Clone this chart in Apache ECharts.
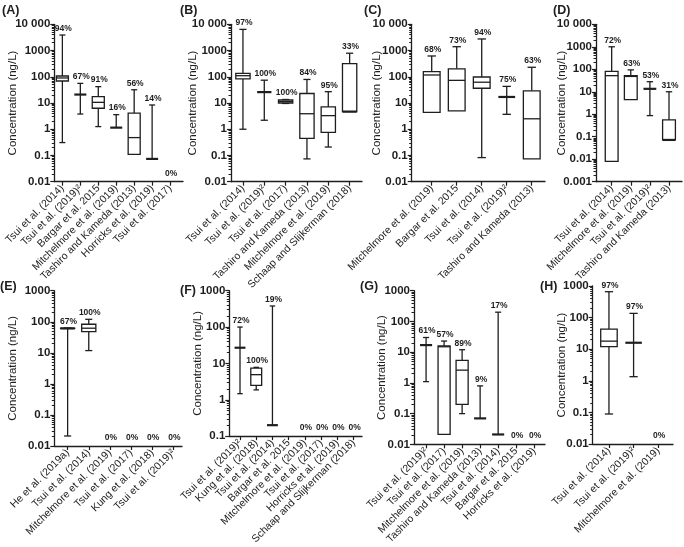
<!DOCTYPE html>
<html><head><meta charset="utf-8">
<script src="https://cdn.jsdelivr.net/npm/echarts@6/dist/echarts.min.js"></script>
<style>html,body{margin:0;padding:0;background:#fff}#c{width:684px;height:547px}</style>
</head><body><div id="c"></div>
<script>
// ---------- DATA (min, Q1, median, Q3, max in ng/L; null = not detected) ----------
const catsA = ["Tsui et al. (2014)", "Tsui et al. (2019)²", "Bargar et al. 2015", "Mitchelmore et al. (2019)", "Tashiro and Kameda (2013)", "Horricks et al. (2019)", "Tsui et al. (2017)"];
const statsA = [[0.31, 69, 90, 107, 3900], [3.8, 21, 21, 21, 56], [1.26, 6.3, 10.6, 17.4, 42], [1.15, 1.15, 1.15, 1.15, 3.6], [0.11, 0.11, 0.48, 4.1, 32], [0.074, 0.074, 0.074, 0.074, 8.4], null];
const pctA = ["94%", "67%", "91%", "16%", "56%", "14%", "0%"];

const catsB = ["Tsui et al. (2014)", "Tsui et al. (2019)²", "Tsui et al. (2017)", "Tashiro and Kameda (2013)", "Mitchelmore et al. (2019)", "Schaap and Slijkerman (2018)"];
const statsB = [[1.0, 83, 110, 135, 6400], [2.2, 26, 26, 26, 74], [9.6, 10, 11.3, 13, 13.6], [0.074, 0.45, 3.9, 23, 79], [0.21, 0.76, 3.3, 7.1, 27], [4.7, 4.7, 4.7, 316, 790]];
const pctB = ["97%", "100%", "100%", "84%", "95%", "33%"];

const catsC = ["Mitchelmore et al. (2019)", "Bargar et al. 2015", "Tsui et al. (2014)", "Tsui et al. (2019)²", "Tashiro and Kameda (2013)"];
const statsC = [[4.4, 4.4, 117, 158, 620], [5.0, 5.0, 73, 200, 1400], [0.083, 36.5, 62, 98, 2760], [3.7, 17, 17, 17, 43], [0.074, 0.074, 2.5, 29, 230]];
const pctC = ["68%", "73%", "94%", "75%", "63%"];

const catsD = ["Tsui et al. (2014)", "Mitchelmore et al. (2019)", "Tsui et al. (2019)²", "Tashiro and Kameda (2013)"];
const statsD = [[0.008, 0.008, 52, 80, 1000], [4.5, 4.5, 48, 52, 94], [0.87, 13.5, 13.5, 13.5, 28], [0.072, 0.072, 0.072, 0.56, 10]];
const pctD = ["72%", "63%", "53%", "31%"];

const catsE = ["He et al. (2019a)", "Tsui et al. (2014)", "Mitchelmore et al. (2019)", "Tsui et al. (2017)", "Kung et al. (2018)", "Tsui et al. (2019)²"];
const statsE = [[0.021, 61, 61, 62, 63], [11.8, 48, 62, 83, 120], null, null, null, null];
const pctE = ["67%", "100%", "0%", "0%", "0%", "0%"];

const catsF = ["Tsui et al. (2019)²", "Kung et al. (2018)", "Tsui et al. (2014)", "Bargar et al. 2015", "Mitchelmore et al. (2019)", "Tsui et al. (2017)", "Horricks et al. (2019)", "Schaap and Slijkerman (2018)"];
const statsF = [[1.47, 27, 27, 27, 100], [1.87, 2.5, 4.9, 7.4, 7.8], [0.2, 0.2, 0.2, 0.2, 380], null, null, null, null, null];
const pctF = ["72%", "100%", "19%", "", "0%", "0%", "0%", "0%"];

const catsG = ["Tsui et al. (2019)²", "Tsui et al. (2017)", "Mitchelmore et al. (2019)", "Tashiro and Kameda (2013)", "Tsui et al. (2014)", "Bargar et al. 2015", "Horricks et al. (2019)"];
const statsG = [[1.1, 17, 17, 17, 30], [0.021, 0.021, 15, 16, 23], [0.1, 0.2, 2.6, 5.4, 12], [0.07, 0.07, 0.07, 0.07, 0.8], [0.021, 0.021, 0.021, 0.021, 200], null, null];
const pctG = ["61%", "57%", "89%", "9%", "17%", "0%", "0%"];

const catsH = ["Tsui et al. (2014)", "Tsui et al. (2019)²", "Mitchelmore et al. (2019)"];
const statsH = [[0.089, 12, 18, 43, 660], [1.35, 16, 16, 16, 136], null];
const pctH = ["97%", "97%", "0%"];

const yRangeTop = [0.01, 10000];
const yRangeD = [0.001, 10000];
const yRangeBottom = [0.01, 1000];
const yRangeF = [0.1, 1000];
const yTitle = "Concentration (ng/L)";

// ---------- LAYOUT ----------
const panels = [
  {name: "(A)", cats: catsA, stats: statsA, pct: pctA, yr: yRangeTop, left: 54.3, right: 183, top: 24.3, bottom: 181.7, xMin: -0.45, xMax: 6.72, nameGap: 35, lx: 2, ly: 4},
  {name: "(B)", cats: catsB, stats: statsB, pct: pctB, yr: yRangeTop, left: 231, right: 362, top: 24.3, bottom: 181.7, xMin: -0.56, xMax: 5.58, nameGap: 32, lx: 180, ly: 4},
  {name: "(C)", cats: catsC, stats: statsC, pct: pctC, yr: yRangeTop, left: 411.7, right: 545, top: 24.3, bottom: 181.7, xMin: -0.8, xMax: 4.53, nameGap: 29, lx: 364, ly: 4},
  {name: "(D)", cats: catsD, stats: statsD, pct: pctD, yr: yRangeD, left: 596, right: 682, top: 24.3, bottom: 181.7, xMin: -0.82, xMax: 3.68, nameGap: 28, lx: 553, ly: 4},
  {name: "(E)", cats: catsE, stats: statsE, pct: pctE, yr: yRangeBottom, left: 54.3, right: 182, top: 290.7, bottom: 446, xMin: -0.63, xMax: 5.41, nameGap: 35, lx: 0, ly: 280},
  {name: "(F)", cats: catsF, stats: statsF, pct: pctF, yr: yRangeF, left: 229.3, right: 362, top: 290.7, bottom: 447, xMin: -0.66, xMax: 7.52, nameGap: 25, lx: 180, ly: 284},
  {name: "(G)", cats: catsG, stats: statsG, pct: pctG, yr: yRangeBottom, left: 414, right: 545, top: 290.7, bottom: 445, xMin: -0.67, xMax: 6.6, nameGap: 26, lx: 360, ly: 280},
  {name: "(H)", cats: catsH, stats: statsH, pct: pctH, yr: yRangeBottom, left: 592.7, right: 673, top: 286, bottom: 444, xMin: -0.66, xMax: 2.6, nameGap: 25, lx: 540, ly: 280}
];

const INK = '#1e1e1e';
const FONT = 'Liberation Sans, Arial, sans-serif';

function decades(yr) {
  const out = [];
  for (let e = Math.round(Math.log10(yr[0])); e <= Math.round(Math.log10(yr[1])); e++) out.push(+Math.pow(10, e).toPrecision(1));
  return out;
}
function minorTicks(yr) {
  const out = [];
  for (let e = Math.round(Math.log10(yr[0])); e < Math.round(Math.log10(yr[1])); e++)
    for (let k = 2; k <= 9; k++) out.push(+(k * Math.pow(10, e)).toPrecision(2));
  return out;
}
function yFmt(v) {
  if (v >= 9999) return '10 000';
  if (v < 1) return String(+v.toPrecision(1));
  return String(Math.round(v));
}

function makeRender(p) {
  return function (params, api) {
    const i = params.dataIndex;
    const s = p.stats[i];
    const step = api.size([1, 0])[0];
    const bw = step * 0.67, cw = bw * 0.5;
    const x = api.coord([i, p.yr[0]])[0];
    const st = {stroke: INK, lineWidth: 1.3, fill: null};
    const ch = [];
    let labelY;
    if (s) {
      const Y = v => api.coord([i, v])[1];
      const [mn, q1, md, q3, mx] = s;
      const yMn = Y(mn), yQ1 = Y(q1), yMd = Y(md), yQ3 = Y(q3), yMx = Y(mx);
      if (mx > q3) {
        ch.push({type: 'line', shape: {x1: x, y1: yQ3, x2: x, y2: yMx}, style: st});
        ch.push({type: 'line', shape: {x1: x - cw / 2, y1: yMx, x2: x + cw / 2, y2: yMx}, style: st});
      }
      if (mn < q1) {
        ch.push({type: 'line', shape: {x1: x, y1: yQ1, x2: x, y2: yMn}, style: st});
        ch.push({type: 'line', shape: {x1: x - cw / 2, y1: yMn, x2: x + cw / 2, y2: yMn}, style: st});
      }
      if (q3 > q1) {
        ch.push({type: 'rect', shape: {x: x - bw / 2, y: yQ3, width: bw, height: yQ1 - yQ3}, style: {stroke: INK, lineWidth: 1.3, fill: '#fff'}});
      }
      const thick = (md === q1 || md === q3);
      ch.push({type: 'line', shape: {x1: x - bw / 2, y1: yMd, x2: x + bw / 2, y2: yMd}, style: {stroke: INK, lineWidth: thick ? 2.2 : 1.3}});
      labelY = yMx - 2;
    } else {
      labelY = api.coord([i, p.yr[0]])[1] - 4;
    }
    if (p.pct[i]) {
      ch.push({type: 'text', style: {text: p.pct[i], x: x + 1, y: labelY, align: 'center', verticalAlign: 'bottom', textAlign: 'center', textVerticalAlign: 'bottom', font: 'bold 8.5px ' + FONT, fill: INK}});
    }
    return {type: 'group', children: ch};
  };
}

const option = {
  animation: false,
  backgroundColor: '#fff',
  grid: [], xAxis: [], yAxis: [], series: [], graphic: []
};

panels.forEach((p, k) => {
  option.grid.push({left: p.left, top: p.top, width: p.right - p.left, height: p.bottom - p.top, containLabel: false});
  const idx = p.cats.map((_, i) => i);
  option.xAxis.push({
    type: 'value', gridIndex: k, min: p.xMin, max: p.xMax,
    splitLine: {show: false},
    axisLine: {onZero: false, lineStyle: {color: INK, width: 1.3}},
    axisTick: {show: true, customValues: idx, length: 4, lineStyle: {color: INK, width: 1.2}},
    axisLabel: {customValues: idx, rotate: 45, margin: 5, fontSize: 10.5, fontFamily: FONT, color: INK,
      formatter: v => p.cats[Math.round(v)] || ''}
  });
  option.yAxis.push({
    type: 'log', logBase: 10, gridIndex: k, position: 'left', min: p.yr[0], max: p.yr[1],
    name: yTitle, nameLocation: 'middle', nameGap: p.nameGap, nameMoveOverlap: false,
    nameTextStyle: {fontSize: 11.5, fontFamily: FONT, color: INK},
    splitLine: {show: false},
    axisLine: {onZero: false, lineStyle: {color: INK, width: 1.3}},
    axisTick: {customValues: decades(p.yr), length: 4, lineStyle: {color: INK, width: 1.2}},
    axisLabel: {customValues: decades(p.yr), formatter: yFmt, fontSize: 11.5, fontWeight: 'bold', fontFamily: FONT, color: INK, margin: 4}
  });
  option.yAxis.push({
    type: 'log', logBase: 10, gridIndex: k, position: 'left', offset: 0, min: p.yr[0], max: p.yr[1],
    splitLine: {show: false},
    axisLine: {show: false, onZero: false},
    axisTick: {customValues: minorTicks(p.yr), length: 2.5, lineStyle: {color: INK, width: 1}},
    axisLabel: {show: false}
  });
  option.series.push({
    type: 'custom', xAxisIndex: k, yAxisIndex: 2 * k, clip: false,
    renderItem: makeRender(p),
    encode: {x: 0, y: 1},
    data: p.stats.map((s, i) => [i, s ? s[4] : p.yr[0]])
  });
  option.graphic.push({type: 'text', left: p.lx, top: p.ly, style: {text: p.name, font: 'bold 12.5px ' + FONT, fill: INK}});
});

const chart = echarts.init(document.getElementById('c'), null, {renderer: 'canvas'});
chart.setOption(option);
</script></body></html>
